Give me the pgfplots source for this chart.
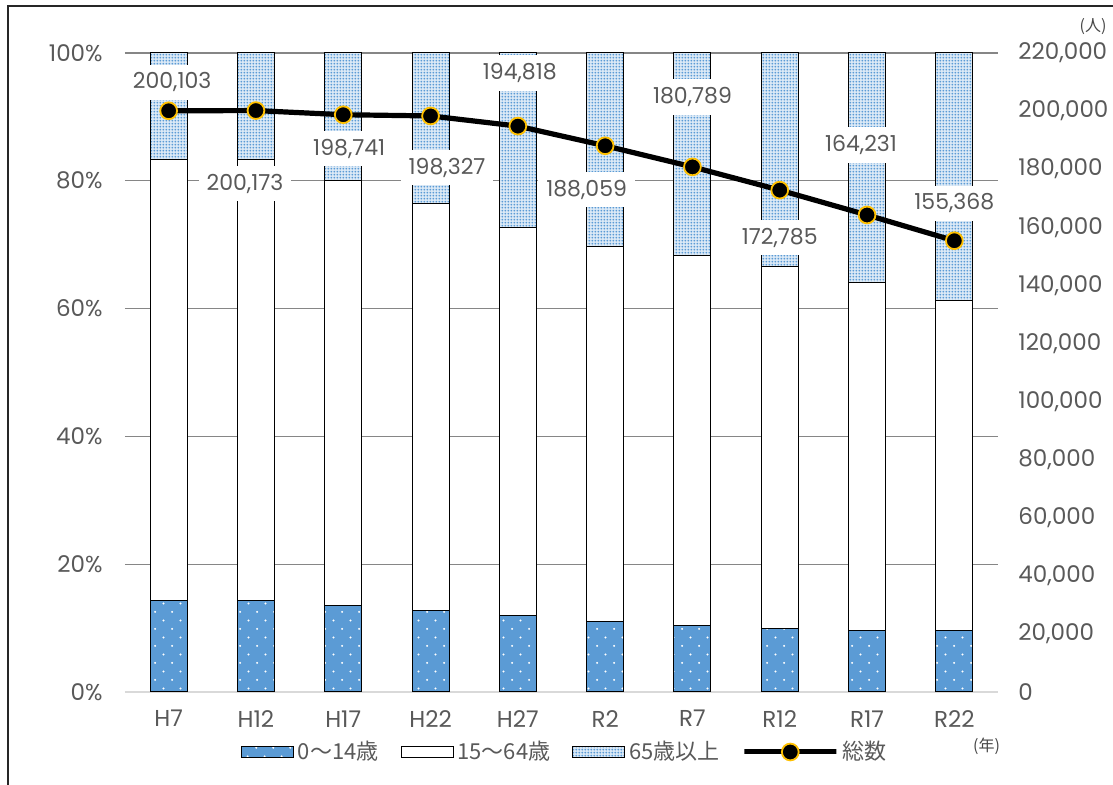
\documentclass[border=0pt]{standalone}
\usepackage{fontspec}
\setmainfont{Poppins}
\newfontfamily\jp{Noto Sans CJK JP}
\usepackage{pgfplots}
\pgfplotsset{compat=1.18}
\usetikzlibrary{patterns.meta}
\definecolor{bblue}{HTML}{5B9BD5}
\definecolor{txt}{HTML}{595959}
\definecolor{gridc}{HTML}{868686}
\definecolor{zeroc}{HTML}{D9D9D9}
\definecolor{mk}{HTML}{FFC000}
\pgfdeclarepattern{name=sparsedots, type=uncolored,
  bottom left=\pgfqpoint{0pt}{0pt}, top right=\pgfqpoint{8.4pt}{8.4pt}, tile size=\pgfqpoint{8.4pt}{8.4pt},
  code={\pgfpathcircle{\pgfqpoint{2.1pt}{2.1pt}}{0.55pt}\pgfpathcircle{\pgfqpoint{6.3pt}{6.3pt}}{0.55pt}\pgfusepath{fill}}}
\pgfdeclarepattern{name=densedots, type=uncolored,
  bottom left=\pgfqpoint{0pt}{0pt}, top right=\pgfqpoint{1.6pt}{1.6pt}, tile size=\pgfqpoint{1.6pt}{1.6pt},
  code={\pgfpathcircle{\pgfqpoint{0.8pt}{0.8pt}}{0.62pt}\pgfusepath{fill}}}
\pgfplotsset{
  barleg/.style={legend image code/.code={\draw[##1] (0pt,-2.75pt) rectangle (26pt,2.75pt);}},
  lineleg/.style={legend image code/.code={\draw[mark repeat=2,mark phase=2,##1] plot coordinates {(0pt,0pt) (13.75pt,0pt) (27.5pt,0pt)};}},
}
\begin{document}
\begin{tikzpicture}
\begin{axis}[
  name=main,
  at={(62.5pt,46.5pt)}, anchor=south west, scale only axis, width=436.5pt, height=319.5pt,
  ybar stacked, bar width=18.5pt,
  xmin=-0.5, xmax=9.5, ymin=0, ymax=100,
  xtick={0,...,9}, xticklabels={H7,H12,H17,H22,H27,R2,R7,R12,R17,R22},
  ytick={20,40,60,80,100}, yticklabels={20\%,40\%,60\%,80\%,100\%},
  extra y ticks={0}, extra y tick labels={0\%},
  extra y tick style={grid style={zeroc, line width=1pt}},
  ymajorgrids, grid style={gridc, line width=0.6pt},
  axis line style={draw=none}, major tick length=0pt,
  tick label style={font=\fontsize{11.5}{13}\selectfont, text=txt},
  yticklabel style={anchor=east, inner sep=0pt, xshift=-11pt},
  xticklabel style={anchor=north, inner sep=0pt, yshift=-9pt},
  legend style={at={(0.505,-0.0939)}, anchor=center, draw=none, fill=none,
    font=\jp\fontsize{11}{13}\selectfont, text=txt,
    /tikz/every even column/.append style={column sep=9pt}},
  legend columns=-1, legend cell align=left,
]
\addplot[fill=bblue, draw=black, line width=0.5pt, postaction={pattern=sparsedots, pattern color=white}, barleg]
  coordinates {(0,14.3) (1,14.3) (2,13.5) (3,12.7) (4,11.9) (5,11.0) (6,10.4) (7,9.9) (8,9.6) (9,9.6)};
\addlegendentry{0～14歳}
\addplot[fill=white, draw=black, line width=0.5pt, barleg]
  coordinates {(0,69.0) (1,69.0) (2,66.6) (3,63.8) (4,60.8) (5,58.7) (6,57.9) (7,56.7) (8,54.5) (9,51.6)};
\addlegendentry{15～64歳}
\addplot[fill=bblue!22, draw=black, line width=0.5pt, postaction={pattern=densedots, pattern color=bblue}, barleg]
  coordinates {(0,16.7) (1,16.7) (2,19.9) (3,23.5) (4,27.3) (5,30.3) (6,31.7) (7,33.4) (8,35.9) (9,38.8)};
\addlegendentry{65歳以上}
\addlegendimage{black, line width=2.5pt, mark=*, mark size=4.2pt, mark options={fill=black, draw=mk, line width=0.9pt}, lineleg}
\addlegendentry{総数}
\end{axis}
\begin{axis}[
  at={(main.south west)}, anchor=south west, scale only axis, width=436.5pt, height=319.5pt,
  xmin=-0.5, xmax=9.5, ymin=0, ymax=220000,
  hide x axis, axis y line*=right, axis line style={draw=none}, major tick length=0pt,
  ytick={0,20000,40000,60000,80000,100000,120000,140000,160000,180000,200000,220000},
  yticklabels={0,{20,000},{40,000},{60,000},{80,000},{100,000},{120,000},{140,000},{160,000},{180,000},{200,000},{220,000}},
  scaled y ticks=false,
  tick label style={font=\fontsize{11.5}{13}\selectfont, text=txt},
  yticklabel style={anchor=west, inner sep=0pt, xshift=10pt},
  clip=false,
]
\addplot[black, line width=2.6pt, mark=*, mark size=4.2pt, mark options={fill=black, draw=mk, line width=0.9pt}]
  coordinates {(0,200103) (1,200173) (2,198741) (3,198327) (4,194818) (5,188059) (6,180789) (7,172785) (8,164231) (9,155368)};
\node[fill=white, inner sep=4pt, text=txt, font=\fontsize{11}{13}\selectfont, xshift=1.75pt, yshift=14.25pt] at (axis cs:0,200103) {200,103};
\node[fill=white, inner sep=4pt, text=txt, font=\fontsize{11}{13}\selectfont, xshift=-5.5pt, yshift=-36.5pt] at (axis cs:1,200173) {200,173};
\node[fill=white, inner sep=4pt, text=txt, font=\fontsize{11}{13}\selectfont, xshift=3pt, yshift=-17pt] at (axis cs:2,198741) {198,741};
\node[fill=white, inner sep=4pt, text=txt, font=\fontsize{11}{13}\selectfont, xshift=8.25pt, yshift=-25.8pt] at (axis cs:3,198327) {198,327};
\node[fill=white, inner sep=4pt, text=txt, font=\fontsize{11}{13}\selectfont, xshift=1pt, yshift=26.5pt] at (axis cs:4,194818) {194,818};
\node[fill=white, inner sep=4pt, text=txt, font=\fontsize{11}{13}\selectfont, xshift=-9.25pt, yshift=-22pt] at (axis cs:5,188059) {188,059};
\node[fill=white, inner sep=4pt, text=txt, font=\fontsize{11}{13}\selectfont, xshift=0pt, yshift=35pt] at (axis cs:6,180789) {180,789};
\node[fill=white, inner sep=4pt, text=txt, font=\fontsize{11}{13}\selectfont, xshift=0pt, yshift=-23.8pt] at (axis cs:7,172785) {172,785};
\node[fill=white, inner sep=4pt, text=txt, font=\fontsize{11}{13}\selectfont, xshift=-3pt, yshift=35pt] at (axis cs:8,164231) {164,231};
\node[fill=white, inner sep=4pt, text=txt, font=\fontsize{11}{13}\selectfont, xshift=0pt, yshift=18.7pt] at (axis cs:9,155368) {155,368};
\end{axis}
\node[font=\jp\fontsize{8}{9}\selectfont, text=txt!80!black, inner sep=0pt] at (546.5pt,379pt) {(人)};
\node[font=\jp\fontsize{8}{9}\selectfont, text=txt!80!black, inner sep=0pt] at (493.3pt,19.2pt) {(年)};
\draw[line width=0.6pt, black!85] (4pt,0pt) -- (4pt,389.5pt) -- (556.5pt,389.5pt);
\pgfresetboundingbox
\path[use as bounding box] (0pt,0pt) rectangle (556.5pt,392.5pt);
\end{tikzpicture}
\end{document}
